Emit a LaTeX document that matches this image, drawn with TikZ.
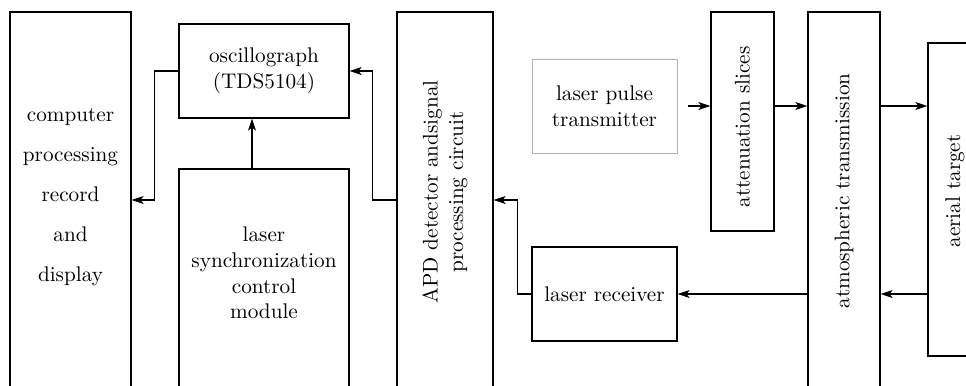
\documentclass[tikz,border=0pt]{standalone}
\usetikzlibrary{arrows.meta}
\begin{document}
\begin{tikzpicture}[x=0.5pt, y=-0.5pt, semithick, font=\fontsize{10.6pt}{12.8pt}\selectfont,
    >={Stealth[length=6pt, width=4pt, inset=1.5pt]},
    box/.style={draw, inner sep=0pt, align=center}]
    \useasboundingbox (0,0) rectangle (966,386);
    \clip (0,0) rectangle (966,386);
    % blocks
    \node[box, minimum width=60.5pt, minimum height=204pt] (comp) at (70.5,216) {};
    \node[box, minimum width=85pt, minimum height=47pt] (osc) at (264,71) {oscillograph\\(TDS5104)};
    \node[box, minimum width=85pt, minimum height=125.5pt] (sync) at (264,294.5) {};
    \node[box, minimum width=48pt, minimum height=204pt] (apd) at (445,216) {};
    \node[box, draw=gray!60, thin, minimum width=72.5pt, minimum height=47pt] (trans) at (604.5,106) {laser pulse\\transmitter};
    \node[box, minimum width=72.5pt, minimum height=47pt] (recv) at (604.5,294) {laser receiver};
    \node[box, minimum width=31.5pt, minimum height=109.5pt] (atten) at (742.5,121.5) {};
    \node[box, minimum width=36pt, minimum height=204pt] (atmo) at (844,216) {};
    \node[box, minimum width=36pt, minimum height=156.5pt] (aerial) at (964,199.5) {};
    % texts
    \node[align=center] (comptext) at (70.5,197) {computer\\[7.2pt]processing\\[7.2pt]record\\[7.2pt]and\\[7.2pt]display};
    \node[align=center] (synctext) at (264,273) {laser\\synchronization\\control\\module};
    \node[rotate=90, align=center] (apdtext) at (445,192) {APD detector andsignal\\processing circuit};
    \node[rotate=90] (attentext) at (742.5,127) {attenuation slices};
    \node[rotate=90] (atmotext) at (844,191) {atmospheric transmission};
    \node[rotate=90] (aerialtext) at (955,191) {aerial target};
    % signal lines
    \draw[->] ([xshift=-6pt]sync.north) -- ([xshift=-6pt]osc.south);
    \draw[->] (osc.west) -- ++(-12pt,0) |- ([yshift=8pt]comp.east);
    \draw[->] ([yshift=8pt]apd.west) -- ++(-12pt,0) |- (osc.east);
    \draw[->] (recv.west) -- ++(-7pt,0) |- ([yshift=8pt]apd.east);
    \draw[->, shorten <=5.5pt] (trans.east) -- (trans.east -| atten.west);
    \draw[->] (trans.east -| atten.east) -- (trans.east -| atmo.west);
    \draw[->] (trans.east -| atmo.east) -- (trans.east -| aerial.west);
    \draw[->] (recv.east -| aerial.west) -- (recv.east -| atmo.east);
    \draw[->] (recv.east -| atmo.west) -- (recv.east);
\end{tikzpicture}
\end{document}
